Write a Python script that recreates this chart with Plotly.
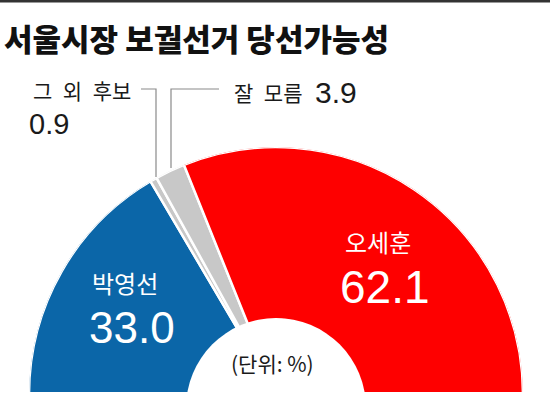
import numpy as np
import plotly.graph_objects as go

# ---- data ----
candidates = ["박영선", "그 외 후보", "잘 모름", "오세훈"]
values = [33.0, 0.9, 3.9, 62.1]
colors = ["#0b66a8", "#c8c8c8", "#c8c8c8", "#fe0000"]
title_text = "서울시장 보궐선거 당선가능성"
unit_text = "(단위: %)"

W, H = 550, 396
L, R, T, B = 29, 27, 147, 2
PW, PH = W - L - R, H - T - B


def px(x):
    return (x - L) / PW


def py(y):
    return (H - B - y) / PH


vals = np.array(values)
spans = 180.0 * vals / vals.sum()
starts = np.cumsum(spans) - spans
mids = starts + spans / 2

fig = go.Figure()
fig.add_trace(go.Barpolar(
    r=[1] * len(values),
    theta=mids,
    width=spans,
    marker=dict(color=colors, line=dict(color="white", width=2.5)),
    text=candidates,
    hoverinfo="text",
    showlegend=False,
))

KR = "Noto Sans CJK KR"
NUM = "Liberation Sans Narrow, Arial Narrow, Liberation Sans, Arial"

ann = []


def add(text, x, y, size, color="#1a1a1a", family=KR, xanchor="center", weight=None):
    f = dict(size=size, color=color, family=family)
    if weight:
        f["weight"] = weight
    ann.append(dict(text=text, x=px(x), y=py(y), xref="paper", yref="paper",
                    xanchor=xanchor, yanchor="middle", showarrow=False, font=f))


def spaced(s):
    return s.replace(" ", "\u2002")


add(title_text, 2, 37, 31, color="#111111", xanchor="left", weight=900)
add(spaced(candidates[1]), 31, 90, 21, xanchor="left")
add(f"{values[1]:.1f}", 27, 124, 29, family=NUM, xanchor="left")
add(spaced(candidates[2]), 232, 92, 21, xanchor="left")
add(f"{values[2]:.1f}", 313, 92, 30, family=NUM, xanchor="left")
add(candidates[0], 125, 282, 24, color="white")
add(f"{values[0]:.1f}", 132, 327, 44, color="white", family=NUM)
add(candidates[3], 378, 241, 24, color="white")
add(f"{values[3]:.1f}", 385, 287, 46, color="white", family=NUM)

shapes = [
    # inner white hole
    dict(type="circle", xref="paper", yref="paper", x0=px(186), x1=px(366),
         y0=py(498), y1=py(318), fillcolor="white", line=dict(width=0)),
    # bottom white strip
    dict(type="rect", xref="paper", yref="paper", x0=px(0), x1=px(W),
         y0=py(H + 5), y1=py(392), fillcolor="white", line=dict(width=0)),
    # top border line
    dict(type="rect", xref="paper", yref="paper", x0=px(0), x1=px(W),
         y0=py(2.5), y1=py(-1), fillcolor="#333333", line=dict(width=0)),
    # leader lines
    dict(type="path", xref="paper", yref="paper",
         path=f"M {px(141)} {py(89)} L {px(156)} {py(89)} L {px(156)} {py(177)}",
         line=dict(color="#8a8a8a", width=1.2)),
    dict(type="path", xref="paper", yref="paper",
         path=f"M {px(219)} {py(89)} L {px(171)} {py(89)} L {px(171)} {py(168)}",
         line=dict(color="#8a8a8a", width=1.2)),
]

add(unit_text, 272, 363, 21)

fig.update_layout(
    width=W, height=H,
    margin=dict(l=L, r=R, t=T, b=B, pad=0),
    paper_bgcolor="white",
    polar=dict(
        domain=dict(x=[0, 1], y=[0, 1]),
        sector=[0, 180],
        hole=0.3,
        bgcolor="rgba(0,0,0,0)",
        bargap=0,
        radialaxis=dict(visible=False, range=[0, 1]),
        angularaxis=dict(visible=False, rotation=180, direction="clockwise",
                         showgrid=False, showline=False),
    ),
    annotations=ann,
    shapes=shapes,
)

fig.write_html("out.html")
